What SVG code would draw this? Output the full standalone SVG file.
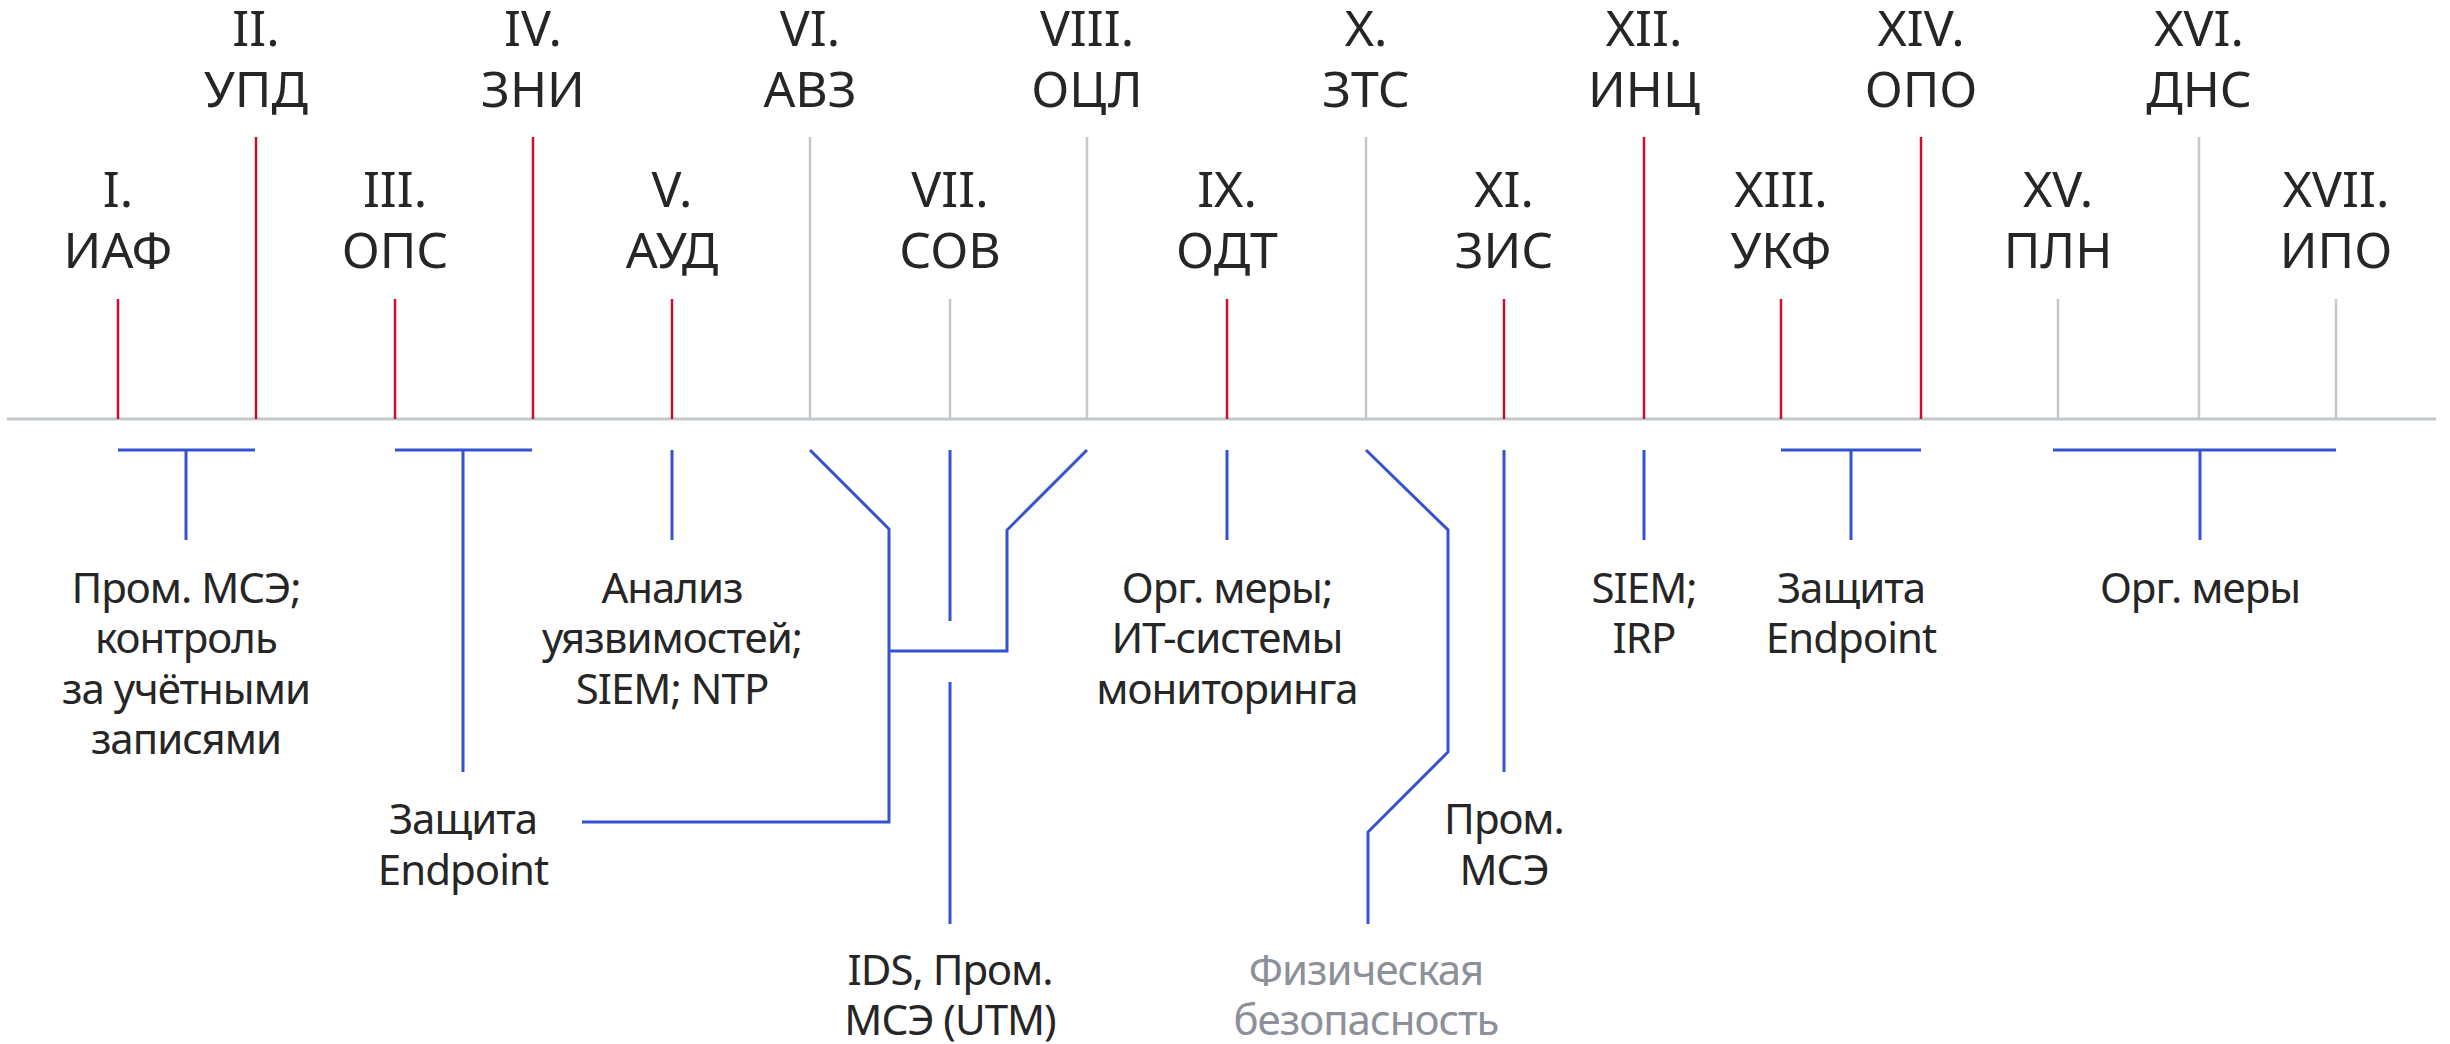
<svg xmlns="http://www.w3.org/2000/svg" width="2450" height="1044" viewBox="0 0 2450 1044">
<style>
.t{font-family:"Noto Sans","Open Sans","Liberation Sans",sans-serif;fill:#262626;text-anchor:middle}
.h{font-size:50px}
.b{font-size:42px;letter-spacing:-1px}
.g{fill:#8c9199}
.red{stroke:#c8102e;stroke-width:2.5}
.gr{stroke:#c2c7cc;stroke-width:2.5}
.bl{stroke:#3553d0;stroke-width:3;fill:none;stroke-linejoin:miter}
</style>
<rect width="2450" height="1044" fill="#fff"/>
<g id="axis"><line x1="7" y1="419" x2="2436" y2="419" stroke="#c2c7cc" stroke-width="3"/></g>
<g id="n1"><line class="red" x1="118" y1="299" x2="118" y2="419"/><text class="t h" x="118" y="207">I.</text><text class="t h" x="118" y="268">ИАФ</text></g>
<g id="n2"><line class="red" x1="256" y1="137" x2="256" y2="419"/><text class="t h" x="256" y="46">II.</text><text class="t h" x="256" y="107">УПД</text></g>
<g id="n3"><line class="red" x1="395" y1="299" x2="395" y2="419"/><text class="t h" x="395" y="207">III.</text><text class="t h" x="395" y="268">ОПС</text></g>
<g id="n4"><line class="red" x1="533" y1="137" x2="533" y2="419"/><text class="t h" x="533" y="46">IV.</text><text class="t h" x="533" y="107">ЗНИ</text></g>
<g id="n5"><line class="red" x1="672" y1="299" x2="672" y2="419"/><text class="t h" x="672" y="207">V.</text><text class="t h" x="672" y="268">АУД</text></g>
<g id="n6"><line class="gr" x1="810" y1="137" x2="810" y2="419"/><text class="t h" x="810" y="46">VI.</text><text class="t h" x="810" y="107">АВЗ</text></g>
<g id="n7"><line class="gr" x1="950" y1="299" x2="950" y2="419"/><text class="t h" x="950" y="207">VII.</text><text class="t h" x="950" y="268">СОВ</text></g>
<g id="n8"><line class="gr" x1="1087" y1="137" x2="1087" y2="419"/><text class="t h" x="1087" y="46">VIII.</text><text class="t h" x="1087" y="107">ОЦЛ</text></g>
<g id="n9"><line class="red" x1="1227" y1="299" x2="1227" y2="419"/><text class="t h" x="1227" y="207">IX.</text><text class="t h" x="1227" y="268">ОДТ</text></g>
<g id="n10"><line class="gr" x1="1366" y1="137" x2="1366" y2="419"/><text class="t h" x="1366" y="46">X.</text><text class="t h" x="1366" y="107">ЗТС</text></g>
<g id="n11"><line class="red" x1="1504" y1="299" x2="1504" y2="419"/><text class="t h" x="1504" y="207">XI.</text><text class="t h" x="1504" y="268">ЗИС</text></g>
<g id="n12"><line class="red" x1="1644" y1="137" x2="1644" y2="419"/><text class="t h" x="1644" y="46">XII.</text><text class="t h" x="1644" y="107">ИНЦ</text></g>
<g id="n13"><line class="red" x1="1781" y1="299" x2="1781" y2="419"/><text class="t h" x="1781" y="207">XIII.</text><text class="t h" x="1781" y="268">УКФ</text></g>
<g id="n14"><line class="red" x1="1921" y1="137" x2="1921" y2="419"/><text class="t h" x="1921" y="46">XIV.</text><text class="t h" x="1921" y="107">ОПО</text></g>
<g id="n15"><line class="gr" x1="2058" y1="299" x2="2058" y2="419"/><text class="t h" x="2058" y="207">XV.</text><text class="t h" x="2058" y="268">ПЛН</text></g>
<g id="n16"><line class="gr" x1="2199" y1="137" x2="2199" y2="419"/><text class="t h" x="2199" y="46">XVI.</text><text class="t h" x="2199" y="107">ДНС</text></g>
<g id="n17"><line class="gr" x1="2336" y1="299" x2="2336" y2="419"/><text class="t h" x="2336" y="207">XVII.</text><text class="t h" x="2336" y="268">ИПО</text></g>
<g id="connectors">
<path class="bl" d="M118 450H255M186 450V540"/>
<path class="bl" d="M395 450H532M463 450V772"/>
<path class="bl" d="M672 450V540"/>
<path class="bl" d="M810 450L889 529V822H582"/>
<path class="bl" d="M950 450V621M950 682V924"/>
<path class="bl" d="M1087 450L1007 530V651H889"/>
<path class="bl" d="M1227 450V540"/>
<path class="bl" d="M1366 450L1448 530V752L1368 832V924"/>
<path class="bl" d="M1504 450V772"/>
<path class="bl" d="M1644 450V540"/>
<path class="bl" d="M1781 450H1921M1851 450V540"/>
<path class="bl" d="M2053 450H2336M2200 450V540"/>
</g>
<g id="l1"><text class="t b" x="186" y="603">Пром. МСЭ;</text><text class="t b" x="186" y="653">контроль</text><text class="t b" x="186" y="704">за учётными</text><text class="t b" x="186" y="754">записями</text></g>
<g id="l2"><text class="t b" x="463" y="834">Защита</text><text class="t b" x="463" y="885">Endpoint</text></g>
<g id="l3"><text class="t b" x="672" y="603">Анализ</text><text class="t b" x="672" y="653">уязвимостей;</text><text class="t b" x="672" y="704">SIEM; NTP</text></g>
<g id="l4"><text class="t b" x="950" y="985">IDS, Пром.</text><text class="t b" x="950" y="1035">МСЭ (UTM)</text></g>
<g id="l5"><text class="t b" x="1227" y="603">Орг. меры;</text><text class="t b" x="1227" y="653">ИТ-системы</text><text class="t b" x="1227" y="704">мониторинга</text></g>
<g id="l6"><text class="t b g" x="1366" y="985">Физическая</text><text class="t b g" x="1366" y="1035">безопасность</text></g>
<g id="l7"><text class="t b" x="1504" y="834">Пром.</text><text class="t b" x="1504" y="885">МСЭ</text></g>
<g id="l8"><text class="t b" x="1644" y="603">SIEM;</text><text class="t b" x="1644" y="653">IRP</text></g>
<g id="l9"><text class="t b" x="1851" y="603">Защита</text><text class="t b" x="1851" y="653">Endpoint</text></g>
<g id="l10"><text class="t b" x="2200" y="603">Орг. меры</text></g>
</svg>
